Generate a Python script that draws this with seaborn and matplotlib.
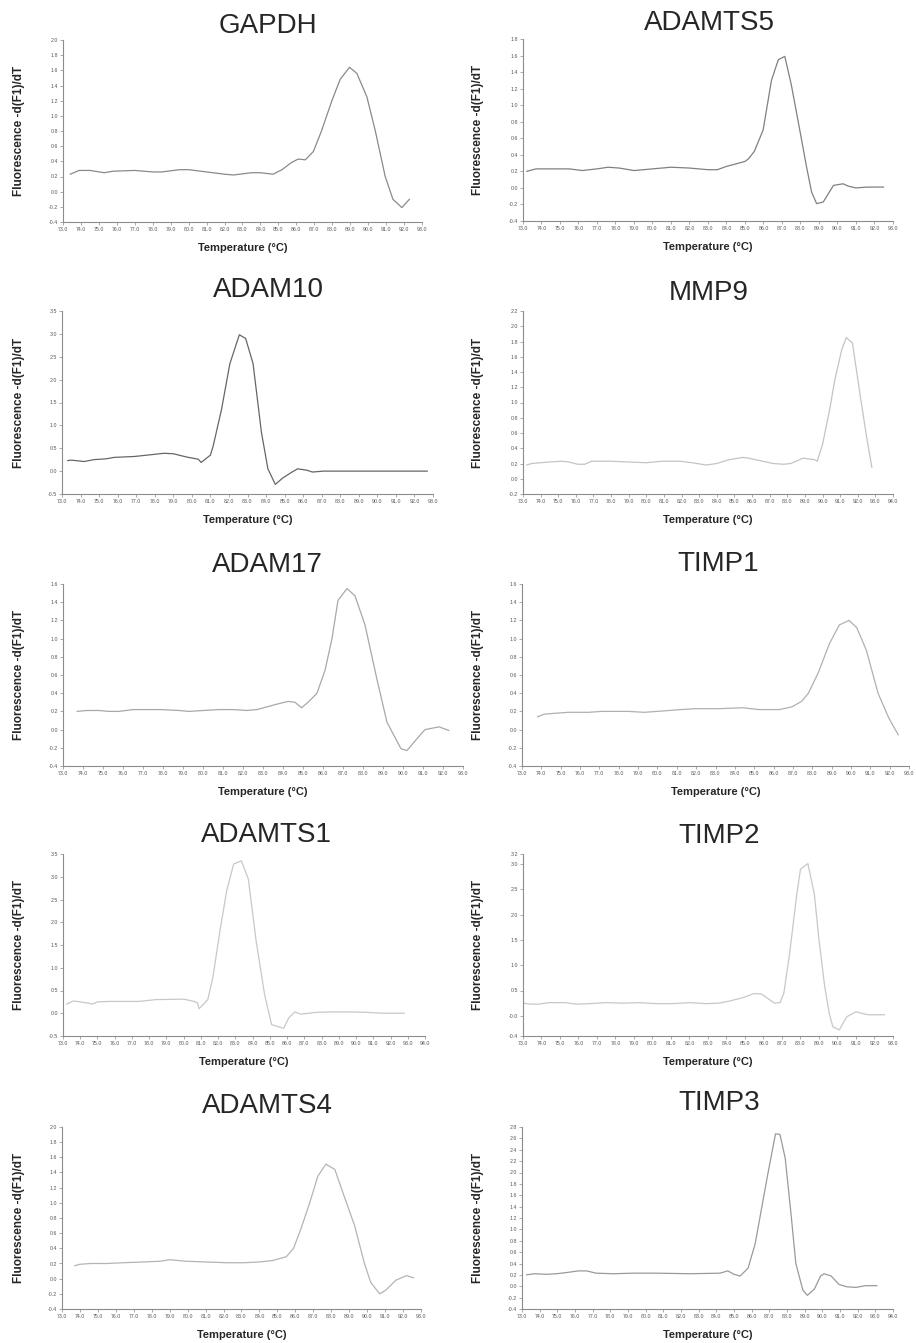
import numpy as np
import matplotlib.pyplot as plt
import seaborn as sns
from matplotlib.ticker import FormatStrFormatter

W, H = 916, 1343
DPI = 100

# melt curve readings: temperature (°C) and -d(F1)/dT
GAPDH_T = [73.4, 73.9, 74.5, 75.3, 75.8, 77.0, 78.0, 78.5, 79.5, 80.0, 81.0, 82.0, 82.5, 83.5, 84.0, 84.7,
           85.2, 85.7, 86.1, 86.5, 86.95, 87.4, 87.98, 88.44, 88.96, 89.37, 89.93, 90.4, 90.95, 91.38, 91.88, 92.3]
GAPDH_Y = [0.23, 0.28, 0.28, 0.25, 0.27, 0.28, 0.26, 0.26, 0.29, 0.29, 0.26, 0.23, 0.22, 0.25, 0.25, 0.23,
           0.29, 0.38, 0.43, 0.42, 0.53, 0.80, 1.20, 1.48, 1.64, 1.56, 1.25, 0.80, 0.20, -0.10, -0.21, -0.10]

ADAMTS5_T = [73.2, 73.7, 74.5, 75.5, 76.2, 77.0, 77.6, 78.2, 79.0, 80.0, 81.0, 82.0, 83.0, 83.5, 84.0, 85.0,
             85.18, 85.5, 85.98, 86.43, 86.8, 87.15, 87.5, 87.96, 88.33, 88.6, 88.87, 89.23, 89.78, 90.3, 90.6,
             91.0, 91.6, 92.5]
ADAMTS5_Y = [0.20, 0.23, 0.23, 0.23, 0.21, 0.23, 0.25, 0.24, 0.21, 0.23, 0.25, 0.24, 0.22, 0.22, 0.26, 0.32,
             0.35, 0.44, 0.70, 1.30, 1.55, 1.59, 1.25, 0.70, 0.25, -0.05, -0.19, -0.17, 0.03, 0.05, 0.02,
             0.00, 0.01, 0.01]

ADAM10_T = [73.3, 73.5, 74.2, 74.7, 75.4, 75.8, 76.9, 77.6, 78.5, 79.0, 79.7, 80.35, 80.5, 81.0, 81.15, 81.6,
            82.05, 82.56, 82.9, 83.3, 83.75, 84.1, 84.5, 84.9, 85.4, 85.7, 86.2, 86.5, 87.1, 92.7]
ADAM10_Y = [0.23, 0.24, 0.21, 0.25, 0.27, 0.30, 0.32, 0.35, 0.39, 0.38, 0.31, 0.26, 0.19, 0.35, 0.55, 1.35,
            2.35, 2.98, 2.90, 2.35, 0.85, 0.05, -0.29, -0.15, -0.02, 0.05, 0.02, -0.02, 0.00, 0.00]

MMP9_T = [73.2, 73.5, 74.5, 75.2, 75.6, 76.1, 76.5, 76.9, 77.9, 79.0, 80.0, 80.9, 81.9, 82.6, 83.4, 84.0,
          84.7, 85.5, 85.8, 86.6, 87.2, 87.8, 88.2, 88.9, 89.55, 89.7, 90.0, 90.4, 90.7, 91.1, 91.35, 91.7,
          92.1, 92.5, 92.8]
MMP9_Y = [0.18, 0.20, 0.22, 0.23, 0.22, 0.19, 0.19, 0.23, 0.23, 0.22, 0.21, 0.23, 0.23, 0.21, 0.18, 0.20,
          0.25, 0.28, 0.27, 0.23, 0.20, 0.19, 0.20, 0.27, 0.25, 0.23, 0.45, 0.90, 1.30, 1.70, 1.85, 1.78,
          1.15, 0.55, 0.15]

ADAM17_T = [73.7, 74.2, 74.8, 75.3, 75.8, 76.5, 77.9, 78.8, 79.3, 80.0, 80.8, 81.5, 82.2, 82.7, 83.2, 83.7,
            84.25, 84.6, 84.93, 85.25, 85.7, 86.1, 86.45, 86.75, 87.2, 87.6, 88.1, 88.7, 89.2, 89.9, 90.2,
            90.7, 91.1, 91.8, 92.3]
ADAM17_Y = [0.20, 0.21, 0.21, 0.20, 0.20, 0.22, 0.22, 0.21, 0.20, 0.21, 0.22, 0.22, 0.21, 0.22, 0.25, 0.28,
            0.31, 0.30, 0.24, 0.30, 0.40, 0.65, 1.00, 1.42, 1.55, 1.47, 1.15, 0.55, 0.08, -0.21, -0.23,
            -0.10, 0.00, 0.03, -0.01]

TIMP1_T = [73.8, 74.15, 74.75, 75.4, 76.45, 77.1, 78.5, 79.3, 80.0, 81.2, 82.0, 83.2, 84.4, 85.25, 86.3,
           86.95, 87.45, 87.8, 88.3, 88.9, 89.4, 89.9, 90.3, 90.8, 91.4, 91.95, 92.45]
TIMP1_Y = [0.14, 0.17, 0.18, 0.19, 0.19, 0.20, 0.20, 0.19, 0.20, 0.22, 0.23, 0.23, 0.24, 0.22, 0.22,
           0.25, 0.31, 0.40, 0.62, 0.95, 1.15, 1.20, 1.12, 0.87, 0.40, 0.13, -0.06]

ADAMTS1_T = [73.2, 73.6, 74.0, 74.5, 74.7, 75.0, 75.7, 77.4, 78.4, 80.0, 80.5, 80.8, 80.9, 81.4, 81.7, 82.1,
             82.5, 82.9, 83.35, 83.75, 84.2, 84.7, 85.1, 85.8, 86.1, 86.45, 86.8, 87.7, 88.7, 89.6, 90.6,
             91.6, 92.8]
ADAMTS1_Y = [0.20, 0.27, 0.25, 0.22, 0.20, 0.25, 0.26, 0.26, 0.30, 0.31, 0.27, 0.23, 0.10, 0.30, 0.80, 1.80,
             2.70, 3.28, 3.35, 2.95, 1.60, 0.40, -0.25, -0.33, -0.10, 0.03, -0.02, 0.02, 0.03, 0.03, 0.02,
             0.00, 0.00]

TIMP2_T = [73.0, 73.4, 73.85, 74.4, 75.3, 75.85, 76.6, 77.5, 78.35, 79.3, 80.2, 81.1, 82.0, 82.9, 83.6,
           84.15, 84.9, 85.5, 85.9, 86.2, 86.6, 86.9, 87.1, 87.4, 87.8, 88.0, 88.4, 88.75, 89.0, 89.3, 89.55,
           89.75, 90.1, 90.5, 90.8, 91.0, 91.4, 91.7, 92.55]
TIMP2_Y = [0.25, 0.23, 0.23, 0.26, 0.26, 0.23, 0.24, 0.26, 0.25, 0.26, 0.24, 0.24, 0.26, 0.24, 0.25,
           0.29, 0.36, 0.44, 0.43, 0.35, 0.25, 0.26, 0.45, 1.20, 2.40, 2.90, 3.01, 2.40, 1.50, 0.60, 0.05,
           -0.22, -0.28, -0.02, 0.04, 0.08, 0.04, 0.02, 0.02]

ADAMTS4_T = [73.7, 74.0, 74.6, 75.5, 76.4, 77.5, 78.5, 79.0, 79.9, 81.0, 82.2, 83.1, 84.0, 84.75, 85.5,
             85.9, 86.3, 86.8, 87.25, 87.7, 88.2, 88.7, 89.3, 89.85, 90.2, 90.7, 91.05, 91.6, 92.2, 92.6]
ADAMTS4_Y = [0.17, 0.19, 0.20, 0.20, 0.21, 0.22, 0.23, 0.25, 0.23, 0.22, 0.21, 0.21, 0.22, 0.24, 0.29,
             0.40, 0.65, 1.00, 1.35, 1.51, 1.44, 1.10, 0.70, 0.20, -0.05, -0.20, -0.15, -0.02, 0.04, 0.01]

TIMP3_T = [73.25, 73.7, 74.4, 74.95, 75.5, 76.2, 76.65, 77.2, 78.15, 79.3, 80.6, 82.5, 84.2, 84.65, 85.0,
           85.35, 85.8, 86.2, 86.55, 86.9, 87.35, 87.6, 87.9, 88.25, 88.5, 88.9, 89.15, 89.55, 89.9, 90.1,
           90.5, 90.95, 91.4, 91.9, 92.45, 93.1]
TIMP3_Y = [0.20, 0.22, 0.21, 0.22, 0.24, 0.27, 0.27, 0.23, 0.22, 0.23, 0.23, 0.22, 0.23, 0.27, 0.21,
           0.18, 0.32, 0.75, 1.35, 1.95, 2.68, 2.67, 2.25, 1.20, 0.40, -0.07, -0.16, -0.05, 0.18, 0.22,
           0.18, 0.03, -0.01, -0.02, 0.01, 0.01]

GENES = ["GAPDH", "ADAMTS5", "ADAM10", "MMP9", "ADAM17", "TIMP1", "ADAMTS1", "TIMP2", "ADAMTS4", "TIMP3"]
TEMPS = [GAPDH_T, ADAMTS5_T, ADAM10_T, MMP9_T, ADAM17_T, TIMP1_T, ADAMTS1_T, TIMP2_T, ADAMTS4_T, TIMP3_T]
VALUES = [GAPDH_Y, ADAMTS5_Y, ADAM10_Y, MMP9_Y, ADAM17_Y, TIMP1_Y, ADAMTS1_Y, TIMP2_Y, ADAMTS4_Y, TIMP3_Y]

# layout in pixels: axes left, right, top, bottom; x max; y range, y ticks
AX_BOX = [(63, 422, 40, 222), (523, 893, 39, 221),
          (62, 433, 311, 494), (523, 893, 311, 494),
          (63, 463, 584, 766), (522, 909, 584, 766),
          (63, 425, 854, 1036), (523, 893, 854, 1036),
          (62, 421, 1127, 1309), (522, 893, 1127, 1309)]
X_MAX = [93, 93, 93, 94, 93, 93, 94, 93, 93, 94]
Y_LIM = [(-0.4, 2.0), (-0.4, 1.8), (-0.5, 3.5), (-0.2, 2.2), (-0.4, 1.6),
         (-0.4, 1.6), (-0.5, 3.5), (-0.4, 3.2), (-0.4, 2.0), (-0.4, 2.8)]
Y_STEP = [0.2, 0.2, 0.5, 0.2, 0.2, 0.2, 0.5, 0.5, 0.2, 0.2]
TITLE_POS = [(268, 33), (709, 30), (268, 297), (709, 300), (267, 572),
             (718, 571), (266, 842), (719, 843), (267, 1113), (719, 1110)]
LINE_COLORS = ["#8a8a8a", "#808080", "#666666", "#c4c4c4", "#a8a8a8",
               "#b0b0b0", "#c8c8c8", "#c8c8c8", "#b4b4b4", "#9a9a9a"]

sns.set_style("white")
plt.rcParams['font.family'] = ['Liberation Sans', 'DejaVu Sans']

fig = plt.figure(figsize=(W / DPI, H / DPI), dpi=DPI)

for i, gene in enumerate(GENES):
    l, r, t, b = AX_BOX[i]
    ax = fig.add_axes([l / W, 1 - b / H, (r - l) / W, (b - t) / H])
    sns.lineplot(x=TEMPS[i], y=VALUES[i], ax=ax, color=LINE_COLORS[i], linewidth=0.9, sort=False)

    y0, y1 = Y_LIM[i]
    ax.set_xlim(73, X_MAX[i])
    ax.set_ylim(y0, y1)
    ax.set_xticks(np.arange(73, X_MAX[i] + 0.5, 1.0))
    yt = list(np.arange(np.ceil(y0 / Y_STEP[i]) * Y_STEP[i], y1 + 1e-6, Y_STEP[i]))
    yt = sorted(set([round(v, 2) for v in yt] + [y0, y1]))
    ax.set_yticks(yt)
    ax.xaxis.set_major_formatter(FormatStrFormatter('%.1f'))
    ax.yaxis.set_major_formatter(FormatStrFormatter('%.1f'))
    ax.tick_params(axis='both', labelsize=3.8, labelcolor='#555555', length=2, width=0.5,
                   color='#888888', pad=1.5, direction='out', bottom=True, left=True)
    for side in ['top', 'right']:
        ax.spines[side].set_visible(False)
    for side in ['left', 'bottom']:
        ax.spines[side].set_color('#8c8c8c')
        ax.spines[side].set_linewidth(0.8)
    ax.set_xlabel('')
    ax.set_ylabel('')

    tx, ty = TITLE_POS[i]
    fig.text(tx / W, 1 - ty / H, gene, fontsize=20, ha='center', va='baseline')
    lab_x = 19 if l < 300 else 478
    fig.text(lab_x / W, 1 - (t + b) / 2 / H, 'Fluorescence -d(F1)/dT', rotation=90,
             fontsize=8.5, fontweight='bold', ha='center', va='center')
    fig.text((l + r) / 2 / W, 1 - (b + 26) / H, 'Temperature (\u00b0C)',
             fontsize=8, fontweight='bold', ha='center', va='center')

fig.savefig('out.png', dpi=DPI)
plt.close(fig)
